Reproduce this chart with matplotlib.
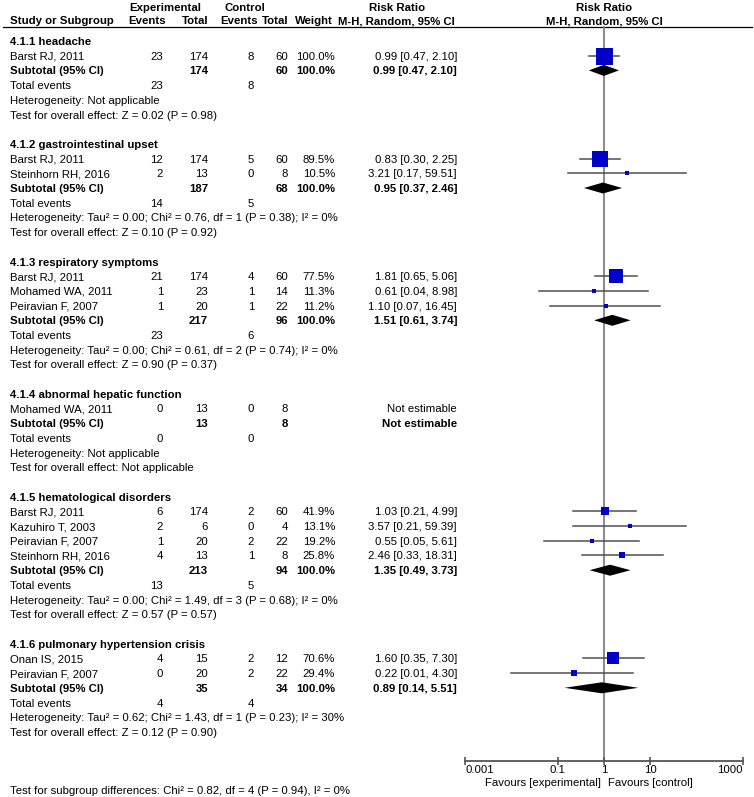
import matplotlib
matplotlib.use("Agg")
import matplotlib.pyplot as plt

#1. Data
groups = ["4.1.1 headache", "4.1.2 gastrointestinal upset", "4.1.3 respiratory symptoms",
          "4.1.4 abnormal hepatic function", "4.1.5 hematological disorders",
          "4.1.6 pulmonary hypertension crisis"]

study_group = [0, 1, 1, 2, 2, 2, 3, 4, 4, 4, 4, 5, 5]
study_names = ["Barst RJ, 2011", "Barst RJ, 2011", "Steinhorn RH, 2016", "Barst RJ, 2011",
               "Mohamed WA, 2011", "Peiravian F, 2007", "Mohamed WA, 2011", "Barst RJ, 2011",
               "Kazuhiro T, 2003", "Peiravian F, 2007", "Steinhorn RH, 2016", "Onan IS, 2015",
               "Peiravian F, 2007"]
exp_events = [23, 12, 2, 21, 1, 1, 0, 6, 2, 1, 4, 4, 0]
exp_total = [174, 174, 13, 174, 23, 20, 13, 174, 6, 20, 13, 15, 20]
ctl_events = [8, 5, 0, 4, 1, 1, 0, 2, 0, 2, 1, 2, 2]
ctl_total = [60, 60, 8, 60, 14, 22, 8, 60, 4, 22, 8, 12, 22]
weights = [100.0, 89.5, 10.5, 77.5, 11.3, 11.2, None, 41.9, 13.1, 19.2, 25.8, 70.6, 29.4]
rr = [0.99, 0.83, 3.21, 1.81, 0.61, 1.10, None, 1.03, 3.57, 0.55, 2.46, 1.60, 0.22]
rr_lo = [0.47, 0.30, 0.17, 0.65, 0.04, 0.07, None, 0.21, 0.21, 0.05, 0.33, 0.35, 0.01]
rr_hi = [2.10, 2.25, 59.51, 5.06, 8.98, 16.45, None, 4.99, 59.39, 5.61, 18.31, 7.30, 4.30]

sub_exp_total = [174, 187, 217, 13, 213, 35]
sub_ctl_total = [60, 68, 96, 8, 94, 34]
sub_weight = [100.0, 100.0, 100.0, None, 100.0, 100.0]
sub_rr = [0.99, 0.95, 1.51, None, 1.35, 0.89]
sub_lo = [0.47, 0.37, 0.61, None, 0.49, 0.14]
sub_hi = [2.10, 2.46, 3.74, None, 3.73, 5.51]
tot_exp_events = [23, 14, 23, 0, 13, 4]
tot_ctl_events = [8, 5, 6, 0, 5, 4]
heterogeneity = ["Not applicable",
                 "Tau² = 0.00; Chi² = 0.76, df = 1 (P = 0.38); I² = 0%",
                 "Tau² = 0.00; Chi² = 0.61, df = 2 (P = 0.74); I² = 0%",
                 "Not applicable",
                 "Tau² = 0.00; Chi² = 1.49, df = 3 (P = 0.68); I² = 0%",
                 "Tau² = 0.62; Chi² = 1.43, df = 1 (P = 0.23); I² = 30%"]
overall = ["Z = 0.02 (P = 0.98)", "Z = 0.10 (P = 0.92)", "Z = 0.90 (P = 0.37)",
           "Not applicable", "Z = 0.57 (P = 0.57)", "Z = 0.12 (P = 0.90)"]
subgroup_diff = "Test for subgroup differences: Chi² = 0.82, df = 4 (P = 0.94), I² = 0%"

tick_vals = [0.001, 0.1, 1, 10, 1000]
tick_labels = ["0.001", "0.1", "1", "10", "1000"]

#2. Layout (pixel coords, figure is 754x797 at dpi 100)
W, H = 754, 797
FS = 8.2
ROW = 14.7
TOP = 42
X_NAME, X_EE, X_ET, X_CE, X_CT, X_W, X_CI = 10.5, 163, 208, 254, 288, 335, 457
AXIS_Y = 761
BLUE = "#0000c8"

plt.rcParams["font.family"] = ["Liberation Sans", "DejaVu Sans"]
plt.rcParams["font.size"] = FS

fig = plt.figure(figsize=(W / 100, H / 100), dpi=100)
ax = fig.add_axes([0, 0, 1, 1])
ax.set_xlim(0, W); ax.set_ylim(H, 0); ax.axis("off")

fx = fig.add_axes([465 / W, 0, 278 / W, 1])
fx.set_xscale("log")
fx.set_xlim(0.001, 1000); fx.set_ylim(H, 0)
fx.patch.set_alpha(0)
for s in ["top", "left", "right"]:
    fx.spines[s].set_visible(False)
fx.spines["bottom"].set_position(("data", AXIS_Y))
fx.spines["bottom"].set_color("#555555")
fx.spines["bottom"].set_linewidth(1.3)
fx.set_yticks([])
fx.set_xticks(tick_vals)
fx.set_xticklabels(tick_labels)
fx.xaxis.set_minor_locator(plt.NullLocator())
fx.tick_params(axis="x", direction="inout", length=6, width=1.2, color="#555555",
               labelsize=FS, pad=0)
tl = fx.get_xticklabels()
tl[0].set_ha("left")
tl[-1].set_ha("right")

def txt(x, y, s, ha="left", bold=False):
    ax.text(x, y, s, ha=ha, va="center", fontsize=FS,
            fontweight="bold" if bold else "normal", color="black")

#3. Header
txt(165, 8, "Experimental", "center", True)
txt(245, 8, "Control", "center", True)
txt(397, 8, "Risk Ratio", "center", True)
txt(X_NAME, 21, "Study or Subgroup", bold=True)
txt(166, 21, "Events", "right", True)
txt(X_ET, 21, "Total", "right", True)
txt(258, 21, "Events", "right", True)
txt(X_CT, 21, "Total", "right", True)
txt(333, 21, "Weight", "right", True)
txt(396, 21, "M-H, Random, 95% CI", "center", True)
fx.text(1, 8, "Risk Ratio", ha="center", va="center", fontsize=FS, fontweight="bold")
fx.text(1, 21, "M-H, Random, 95% CI", ha="center", va="center", fontsize=FS, fontweight="bold")
ax.plot([3, 752], [26.5, 26.5], color="black", lw=0.9)
fx.plot([1, 1], [26.5, AXIS_Y], color="#808080", lw=1.3, zorder=1)

#4. Rows
y = TOP
for g, title in enumerate(groups):
    txt(X_NAME, y, title, bold=True)
    y += ROW
    for i in [k for k, gg in enumerate(study_group) if gg == g]:
        txt(X_NAME, y, study_names[i])
        txt(X_EE, y, str(exp_events[i]), "right")
        txt(X_ET, y, str(exp_total[i]), "right")
        txt(X_CE, y, str(ctl_events[i]), "right")
        txt(X_CT, y, str(ctl_total[i]), "right")
        if rr[i] is None:
            txt(X_CI, y, "Not estimable", "right")
        else:
            txt(X_W, y, f"{weights[i]:.1f}%", "right")
            txt(X_CI, y, f"{rr[i]:.2f} [{rr_lo[i]:.2f}, {rr_hi[i]:.2f}]", "right")
            fx.plot([rr_lo[i], rr_hi[i]], [y - 1, y - 1], color="#505050", lw=1.1, zorder=2)
            side = 1.7 + 0.153 * weights[i]  # pixels
            fx.plot(rr[i], y - 1, "s", ms=side * 0.72, mew=0, color=BLUE, zorder=3)
        y += ROW
    txt(X_NAME, y, "Subtotal (95% CI)", bold=True)
    txt(X_ET, y, str(sub_exp_total[g]), "right", True)
    txt(X_CT, y, str(sub_ctl_total[g]), "right", True)
    if sub_rr[g] is None:
        txt(X_CI, y, "Not estimable", "right", True)
    else:
        txt(X_W, y, f"{sub_weight[g]:.1f}%", "right", True)
        txt(X_CI, y, f"{sub_rr[g]:.2f} [{sub_lo[g]:.2f}, {sub_hi[g]:.2f}]", "right", True)
        fx.fill([sub_lo[g], sub_rr[g], sub_hi[g], sub_rr[g]],
                [y - 1, y - 6.5, y - 1, y + 4.5], color="black", lw=0, zorder=3)
    y += ROW
    txt(X_NAME, y, "Total events")
    txt(X_EE, y, str(tot_exp_events[g]), "right")
    txt(X_CE, y, str(tot_ctl_events[g]), "right")
    y += ROW
    txt(X_NAME, y, "Heterogeneity: " + heterogeneity[g])
    y += ROW
    txt(X_NAME, y, "Test for overall effect: " + overall[g])
    y += 2 * ROW

#5. Footer
fx.text(0.85, 783, "Favours [experimental]", ha="right", va="center", fontsize=FS)
fx.text(1.2, 783, "Favours [control]", ha="left", va="center", fontsize=FS)
txt(X_NAME, 791, subgroup_diff)

plt.savefig("out.png", dpi=100)
